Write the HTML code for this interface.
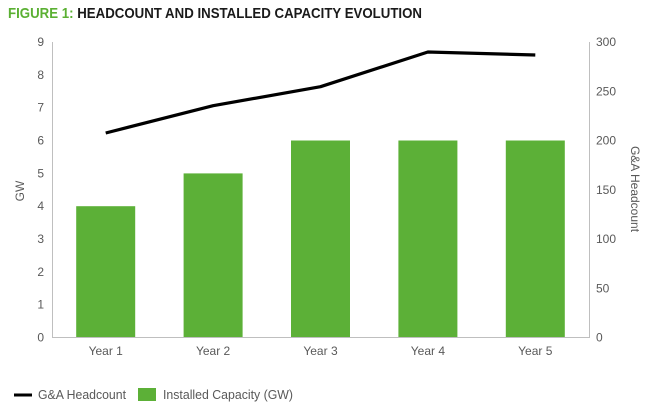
<!DOCTYPE html>
<html>
<head>
<meta charset="utf-8">
<style>
  html,body{margin:0;padding:0;background:#fff;}
  svg{display:block;}
  text{font-family:"Liberation Sans",sans-serif;}
</style>
</head>
<body>
<svg width="650" height="409" viewBox="0 0 650 409" xmlns="http://www.w3.org/2000/svg">
  <rect width="650" height="409" fill="#fff"/>
  <!-- Title -->
  <text x="8" y="18" font-size="15" font-weight="bold" textLength="414" lengthAdjust="spacingAndGlyphs"><tspan fill="#5BB033">FIGURE 1:</tspan><tspan fill="#1a1a1a"> HEADCOUNT AND INSTALLED CAPACITY EVOLUTION</tspan></text>

  <!-- Bars -->
  <g fill="#5CB037">
    <rect x="76.2" y="206.2" width="59" height="131.3"/>
    <rect x="183.6" y="173.4" width="59" height="164.1"/>
    <rect x="291" y="140.5" width="59" height="197"/>
    <rect x="398.4" y="140.5" width="59" height="197"/>
    <rect x="505.8" y="140.5" width="59" height="197"/>
  </g>

  <!-- Axes -->
  <g stroke="#BFBFBF" stroke-width="1" fill="none">
    <line x1="52.5" y1="42" x2="52.5" y2="338"/>
    <line x1="589.5" y1="42" x2="589.5" y2="338"/>
    <line x1="52" y1="337.5" x2="590" y2="337.5"/>
  </g>

  <!-- Line -->
  <polyline points="105.7,133 213.1,105.7 320.5,86.7 427.9,52 535.3,55" fill="none" stroke="#000" stroke-width="3.2" stroke-linejoin="round" stroke-linecap="butt"/>

  <!-- Left tick labels -->
  <g font-size="12" fill="#595959" text-anchor="end">
    <text x="44" y="341.5">0</text>
    <text x="44" y="308.7">1</text>
    <text x="44" y="275.8">2</text>
    <text x="44" y="243">3</text>
    <text x="44" y="210.2">4</text>
    <text x="44" y="177.4">5</text>
    <text x="44" y="144.5">6</text>
    <text x="44" y="111.7">7</text>
    <text x="44" y="78.9">8</text>
    <text x="44" y="46">9</text>
  </g>

  <!-- Right tick labels -->
  <g font-size="12" fill="#595959" text-anchor="start">
    <text x="596" y="341.5">0</text>
    <text x="596" y="292.3">50</text>
    <text x="596" y="243">100</text>
    <text x="596" y="193.8">150</text>
    <text x="596" y="144.5">200</text>
    <text x="596" y="95.3">250</text>
    <text x="596" y="46">300</text>
  </g>

  <!-- Axis titles -->
  <text transform="translate(24,191) rotate(-90)" font-size="12" fill="#595959" text-anchor="middle">GW</text>
  <text transform="translate(631,189) rotate(90)" font-size="12" fill="#595959" text-anchor="middle">G&amp;A Headcount</text>

  <!-- X labels -->
  <g font-size="12" fill="#595959" text-anchor="middle">
    <text x="105.7" y="355">Year 1</text>
    <text x="213.1" y="355">Year 2</text>
    <text x="320.5" y="355">Year 3</text>
    <text x="427.9" y="355">Year 4</text>
    <text x="535.3" y="355">Year 5</text>
  </g>

  <!-- Legend -->
  <line x1="14" y1="395" x2="32" y2="395" stroke="#000" stroke-width="3"/>
  <text x="38" y="399" font-size="12.5" fill="#595959" textLength="88" lengthAdjust="spacingAndGlyphs">G&amp;A Headcount</text>
  <rect x="138" y="388" width="18" height="13" fill="#5CB037"/>
  <text x="163" y="399" font-size="12.5" fill="#595959" textLength="130" lengthAdjust="spacingAndGlyphs">Installed Capacity (GW)</text>
</svg>
</body>
</html>
